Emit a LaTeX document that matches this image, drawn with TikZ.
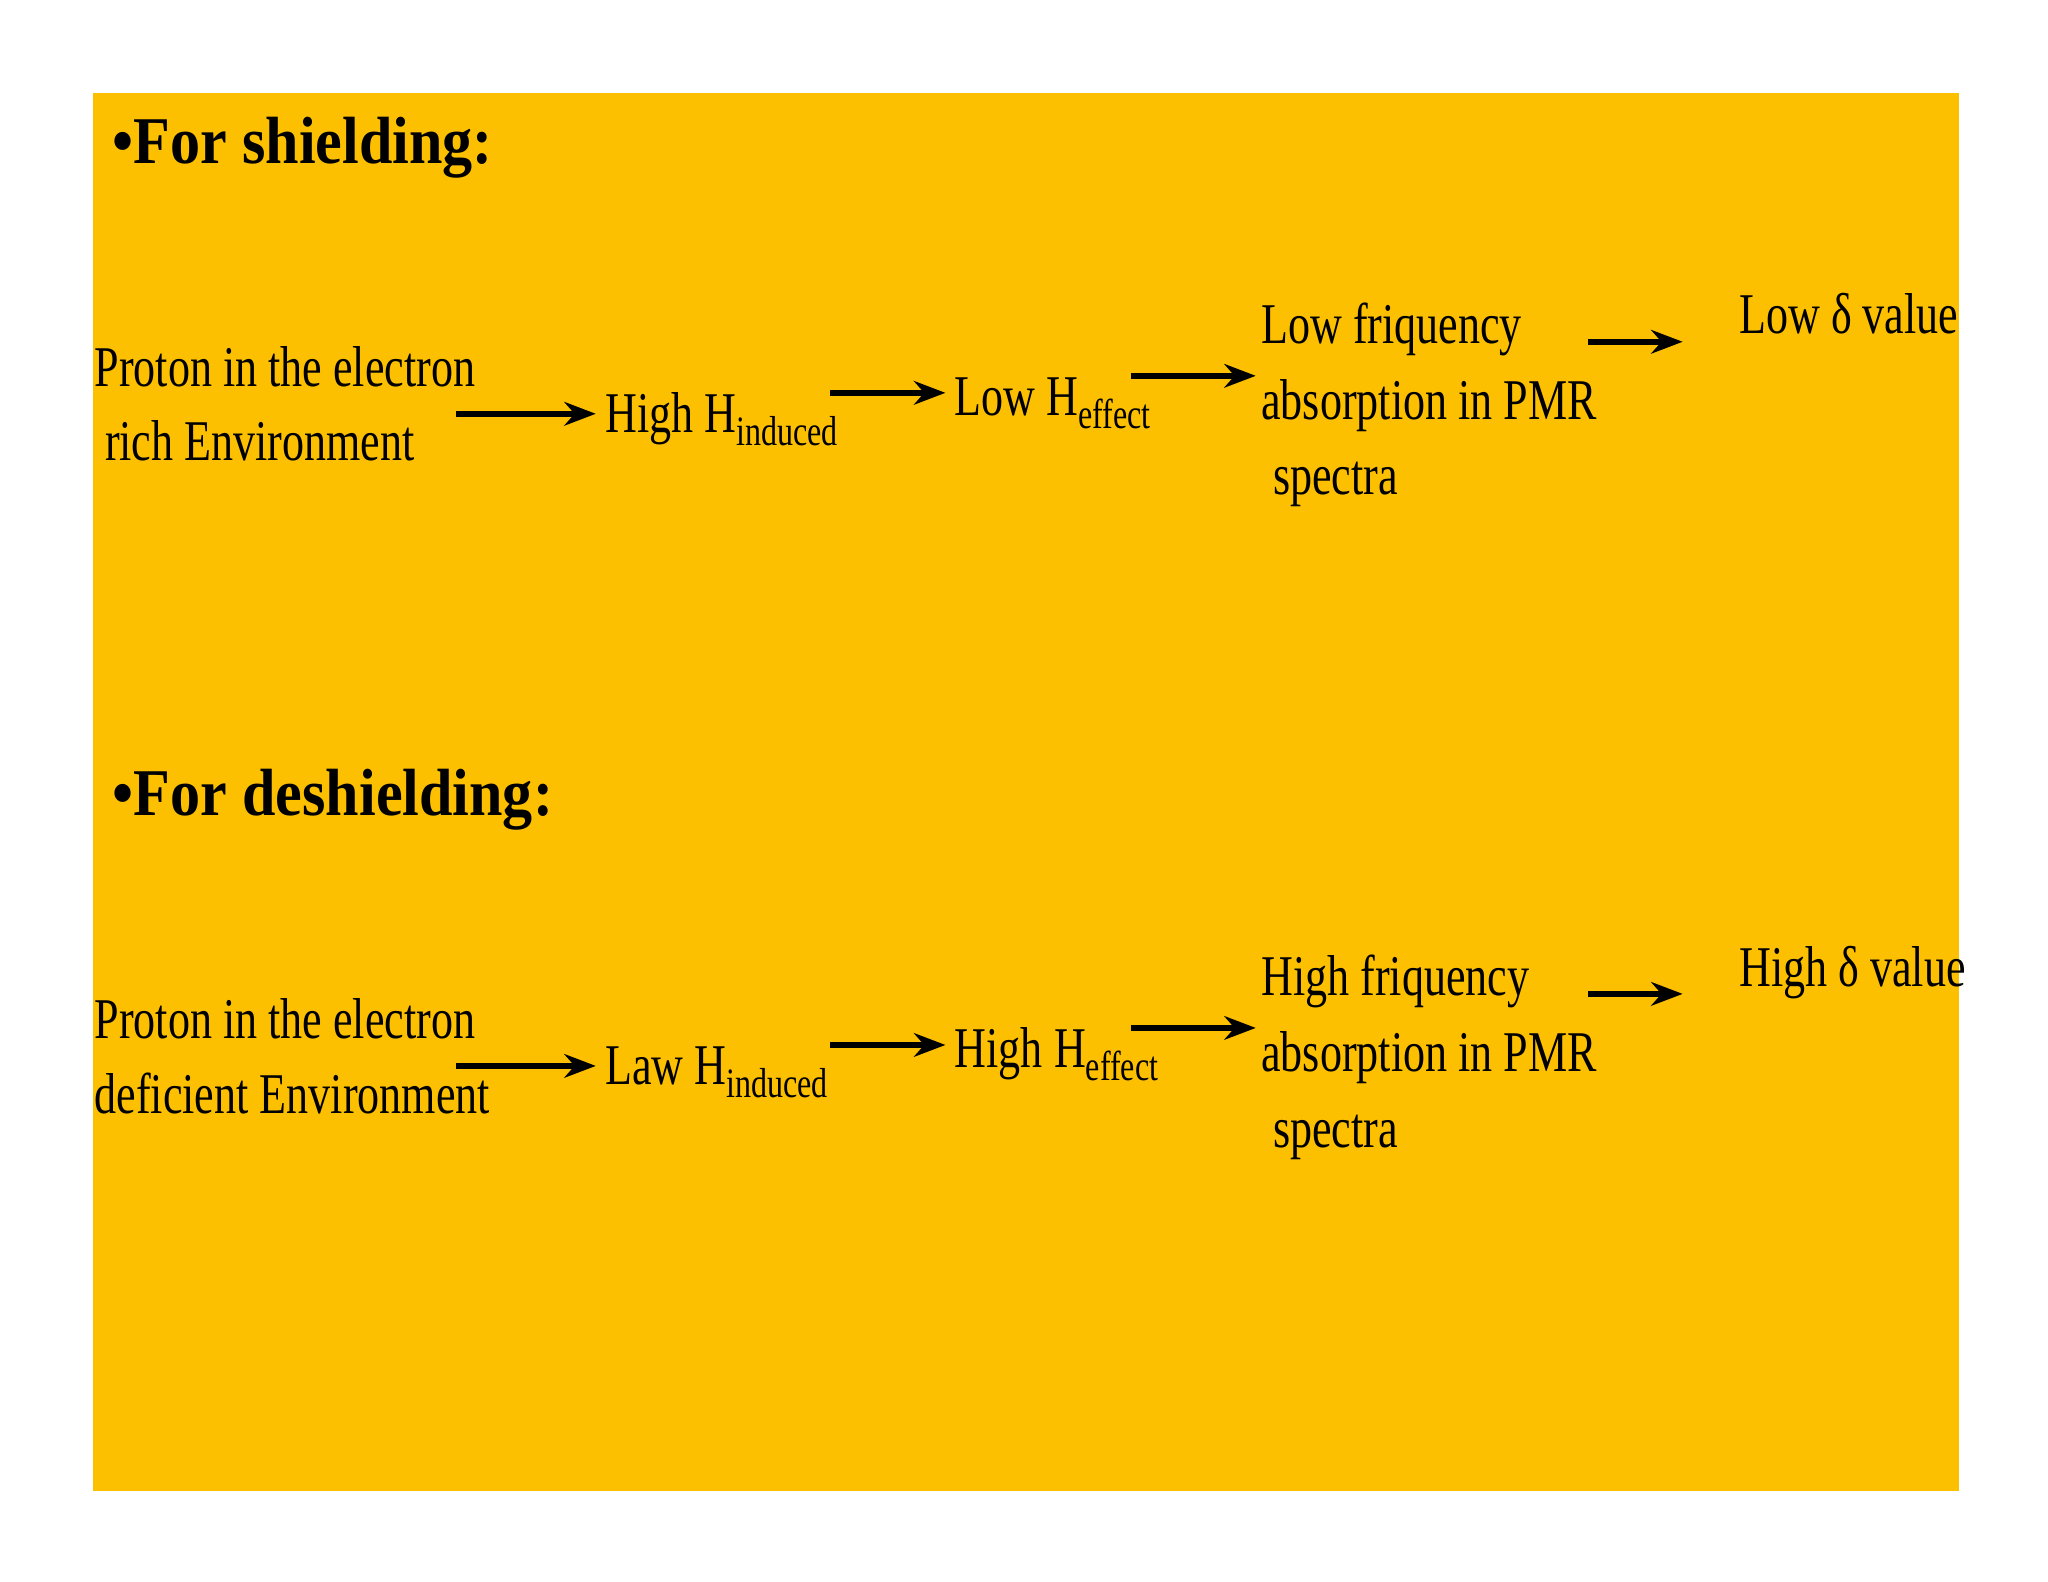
\documentclass[tikz,border=0pt]{standalone}
\usepackage{fontspec}
\setmainfont{Liberation Serif}
\newfontfamily\cond[FakeStretch=0.765]{Liberation Serif}
\newfontfamily\tcond[FakeStretch=0.9]{Liberation Serif}
\usetikzlibrary{arrows.meta}
\definecolor{bg}{HTML}{FDC000}
\tikzset{
  txt/.style={anchor=base west,inner sep=0pt,font=\cond\fontsize{44}{58}\selectfont},
  ttl/.style={anchor=base west,inner sep=0pt,font=\tcond\bfseries\fontsize{51}{56}\selectfont},
  arr/.style={line width=4.5pt,-{Stealth[length=24pt,width=18pt]}}
}
\newcommand{\sbs}[1]{\raisebox{-10pt}{\fontsize{32}{32}\selectfont #1}}
\begin{document}
\begin{tikzpicture}[x=1pt,y=-1pt]
\useasboundingbox (0,0) rectangle (1564,1208);
\fill[bg] (71,71) rectangle (1496,1139);
\foreach \dy/\ttlt/\ta/\tb/\tc/\td/\te in {0/For shielding:/rich Environment/High/Low/Low/Low,498/For deshielding:/deficient Environment/Law/High/High/High}{
\begin{scope}[yshift=-\dy pt]
\node[ttl] (t) at (86,125) {•\ttlt};
\node[txt] (p1) at (72,295) {Proton in the electron};
\ifnum\dy=0 \node[txt] (p2) at (80,352) {\ta};\else\node[txt] (p2) at (72,352) {\ta};\fi
\coordinate (a1s) at (348,316); \coordinate (a1e) at (455,316);
\node[txt] (h1) at (462,330) {\tb{} H\sbs{induced}};
\coordinate (a2s) at (634,300); \coordinate (a2e) at (722,300);
\node[txt] (h2) at (729,317) {\tc{} H\sbs{effect}};
\coordinate (a3s) at (864,287); \coordinate (a3e) at (959,287);
\node[txt] (f1) at (963,262) {\td{} friquency};
\node[txt] (f2) at (963,320) {absorption in PMR};
\node[txt] (f3) at (972,378) {spectra};
\coordinate (a4s) at (1213,261); \coordinate (a4e) at (1285,261);
\node[txt] (d) at (1328,255) {\te{} δ value};
\draw[arr] (a1s) -- (a1e);
\draw[arr] (a2s) -- (a2e);
\draw[arr] (a3s) -- (a3e);
\draw[arr] (a4s) -- (a4e);
\end{scope}}
\end{tikzpicture}
\end{document}
